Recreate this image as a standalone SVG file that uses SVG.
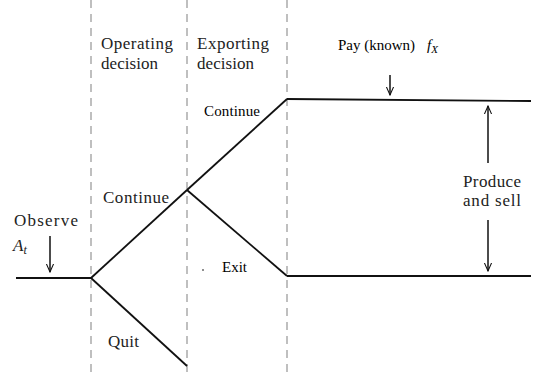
<svg xmlns="http://www.w3.org/2000/svg" width="533" height="377" viewBox="0 0 533 377">
<style>
.dash{stroke:#aaa;stroke-width:1.5;stroke-dasharray:8,6;fill:none}
.ln{stroke:#111;stroke-width:1.8;fill:none}
.ar{stroke:#111;stroke-width:1.5;fill:none}
.t{font-size:17px;fill:#222;font-family:"Liberation Serif","DejaVu Serif",serif}
.s{font-size:15px;fill:#000;font-family:"Liberation Serif","DejaVu Serif",serif}
</style>
<defs>
<marker id="ah" viewBox="0 0 10 10" refX="9" refY="5" markerWidth="9" markerHeight="9" orient="auto" markerUnits="userSpaceOnUse">
<path d="M0,1 L9,5 L0,9" fill="none" stroke="#111" stroke-width="1.2"/>
</marker>
</defs>
<rect width="533" height="377" fill="#fff"/>
<g id="guides">
<line class="dash" x1="91" y1="0" x2="91" y2="377"/>
<line class="dash" x1="187" y1="0" x2="187" y2="377"/>
<line class="dash" x1="287" y1="0" x2="287" y2="377"/>
</g>
<g id="connectors">
<line class="ln" x1="16" y1="278" x2="91" y2="278"/>
<line class="ln" x1="91" y1="278" x2="187" y2="190"/>
<line class="ln" x1="91" y1="278" x2="187" y2="366"/>
<line class="ln" x1="187" y1="190" x2="287" y2="99"/>
<line class="ln" x1="187" y1="190" x2="287" y2="276"/>
<line class="ln" x1="287" y1="99" x2="531" y2="101"/>
<line class="ln" x1="287" y1="276" x2="531" y2="276"/>
<line class="ar" x1="50" y1="236" x2="50" y2="272" marker-end="url(#ah)"/>
<line class="ar" x1="390" y1="75" x2="390" y2="95" marker-end="url(#ah)"/>
<line class="ar" x1="488" y1="163" x2="488" y2="106" marker-end="url(#ah)"/>
<line class="ar" x1="488" y1="220" x2="488" y2="271" marker-end="url(#ah)"/>
</g>
<g id="observe"><text class="t" x="14" y="226" textLength="64">Observe</text><text class="t" x="13" y="251" font-style="italic">A<tspan font-size="12" dy="3">t</tspan></text></g>
<g id="operating"><text class="t" x="101" y="49" textLength="72">Operating</text><text class="t" x="101" y="69" textLength="57">decision</text></g>
<g id="exporting"><text class="t" x="197" y="49" textLength="72">Exporting</text><text class="t" x="197" y="69" textLength="57">decision</text></g>
<g id="pay"><text class="s" x="338" y="50">Pay (known)</text><text class="s" x="427" y="50" font-style="italic" font-size="17">f<tspan font-size="11" dy="3">X</tspan></text></g>
<g id="continue2"><text class="s" x="204" y="116" textLength="56">Continue</text></g>
<g id="continue1"><text class="t" x="103" y="203" textLength="66">Continue</text></g>
<g id="exit"><text class="s" x="222" y="272">Exit</text><circle cx="203" cy="270" r="0.8" fill="#000"/></g>
<g id="quit"><text class="t" x="108" y="347" textLength="31">Quit</text></g>
<g id="produce"><text class="t" x="463" y="187" textLength="58">Produce</text><text class="t" x="463" y="206" textLength="58">and sell</text></g>
</svg>
